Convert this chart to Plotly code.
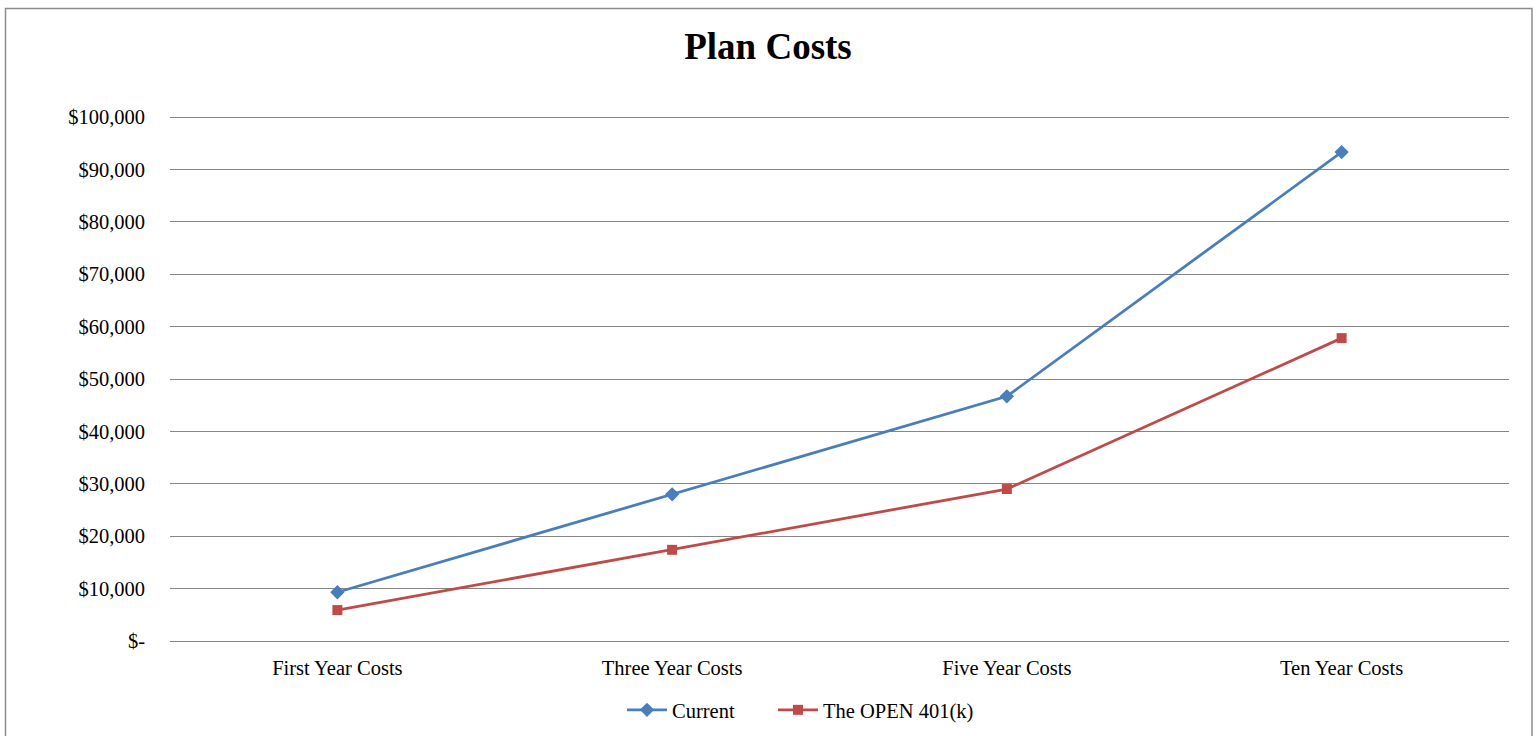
import plotly.graph_objects as go

categories = ["First Year Costs", "Three Year Costs", "Five Year Costs", "Ten Year Costs"]
current = [9300, 28000, 46700, 93300]
open401k = [5900, 17400, 29000, 57800]
tick_vals = [0, 10000, 20000, 30000, 40000, 50000, 60000, 70000, 80000, 90000, 100000]
tick_text = ["$-", "$10,000", "$20,000", "$30,000", "$40,000", "$50,000",
             "$60,000", "$70,000", "$80,000", "$90,000", "$100,000"]

FONT = "Palatino Linotype, Book Antiqua, Palatino, Liberation Serif, DejaVu Serif, serif"

fig = go.Figure()
fig.add_trace(go.Scatter(x=categories, y=current, name="Current", mode="lines+markers",
                         line=dict(color="#4A7EBB", width=2.8),
                         marker=dict(symbol="diamond", size=11, color="#4A7EBB"),
                         legend="legend"))
fig.add_trace(go.Scatter(x=categories, y=open401k, name="The OPEN 401(k)", mode="lines+markers",
                         line=dict(color="#BE4B48", width=2.8),
                         marker=dict(symbol="square", size=10, color="#BE4B48"),
                         legend="legend2"))

W, H = 1539, 736
L, R, T, B = 170, 30, 110, 95
pw, ph = W - L - R, H - T - B
# plot area extends slightly above the $100,000 gridline (which sits at 117 px)
y_top = 100000 * ph / (H - B - 117)

def px_x(p):
    return (p - L) / pw

def px_y(p):
    return (H - B - p) / ph

leg_common = dict(orientation="h", xanchor="left", y=px_y(710), yanchor="middle",
                  font=dict(family=FONT, size=20.5), itemwidth=40, bgcolor="rgba(0,0,0,0)")

fig.update_layout(
    width=W, height=H,
    margin=dict(l=L, r=R, t=T, b=B, autoexpand=False),
    paper_bgcolor="white", plot_bgcolor="white",
    font=dict(family=FONT, size=20.5, color="#000000"),
    title=dict(text="<b>Plan Costs</b>", x=px_x(768), xanchor="center", xref="paper",
               y=1 - 46 / H, yanchor="middle",
               font=dict(family=FONT, size=37, color="#000000")),
    showlegend=True,
    legend=dict(x=px_x(622), **leg_common),
    legend2=dict(x=px_x(773), **leg_common),
    xaxis=dict(type="category", range=[-0.5, 3.5], showgrid=False, showline=True,
               linecolor="#868686", linewidth=1, ticks="", ticklabelstandoff=8,
               tickfont=dict(family=FONT, size=20.5)),
    yaxis=dict(range=[0, y_top], tickvals=tick_vals, ticktext=tick_text,
               showgrid=True, gridcolor="#868686", gridwidth=1, zeroline=False,
               showline=False, ticks="", ticklabelstandoff=24,
               tickfont=dict(family=FONT, size=20.5)),
    shapes=[dict(type="rect", xref="paper", yref="paper",
                 x0=px_x(5.5), x1=px_x(1532), y0=px_y(745), y1=px_y(8.5),
                 line=dict(color="#8C8C8C", width=1.5), fillcolor="rgba(0,0,0,0)", layer="below")],
)

fig.write_html("out.html", config={"displayModeBar": False},
               post_script="document.body.style.margin='0';document.body.style.overflow='hidden';")
